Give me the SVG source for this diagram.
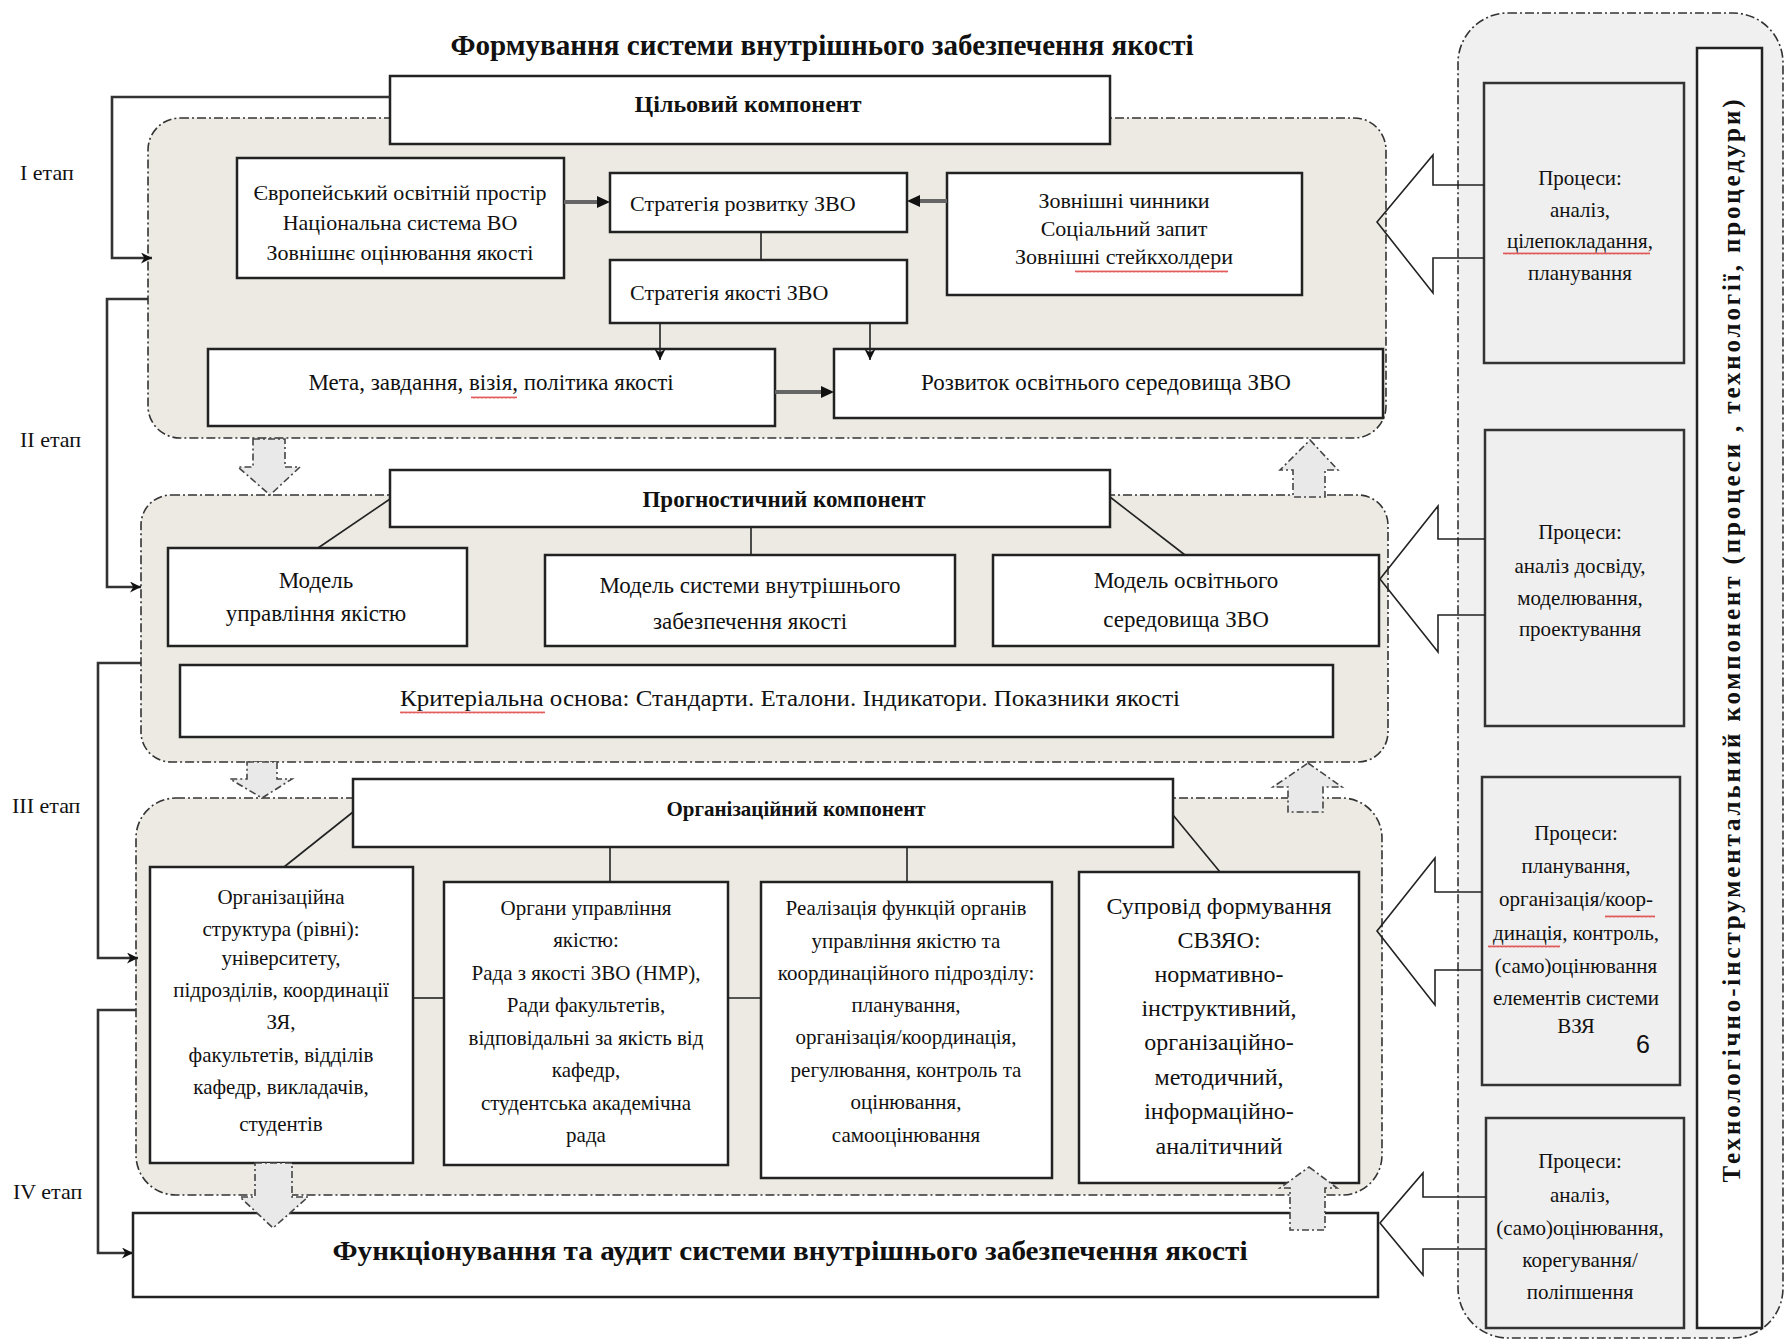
<svg xmlns="http://www.w3.org/2000/svg" width="1789" height="1344" viewBox="0 0 1789 1344">
<style>
text{font-family:"Liberation Serif","Times New Roman",serif;fill:#111}
.t{font-size:22px;text-anchor:middle}
.t23{font-size:23px;text-anchor:middle}
.t21{font-size:21px;text-anchor:middle}
.t24{font-size:24px;text-anchor:middle}
.b{font-weight:bold}
.lbl{font-size:22px}
.panel{fill:#ECEAE2;stroke:#333;stroke-width:1.6;stroke-dasharray:9 3 2 3}
.rcont{fill:#F0F0F0;stroke:#333;stroke-width:1.6;stroke-dasharray:9 3 2 3}
.box{fill:#fff;stroke:#222;stroke-width:2.5}
.pbox{fill:#EFEFEF;stroke:#333;stroke-width:2.5}
.ln{stroke:#222;stroke-width:1.6;fill:none}
.loop{stroke:#333;stroke-width:2.6;fill:none}
.thick{stroke:#666;stroke-width:4;fill:none}
.hollow{fill:none;stroke:#222;stroke-width:1.6}
.blk{fill:#E9E9E9;stroke:#444;stroke-width:1.6;stroke-dasharray:7 3 2 3}
</style>
<defs>
<marker id="ah" viewBox="0 0 10 10" refX="10" refY="5" markerWidth="12" markerHeight="11" markerUnits="userSpaceOnUse" orient="auto">
<path d="M0,0 L10,5 L0,10 L3,5 z" fill="#111"/>
</marker>
<pattern id="wavy" width="4" height="3" patternUnits="userSpaceOnUse">
<path d="M0,2.5 L1,0.5 L2,2.5 L3,0.5 L4,2.5" stroke="#d33" stroke-width="0.8" fill="none"/>
</pattern>
</defs>
<rect width="1789" height="1344" fill="#fff"/>

<!-- title -->
<text x="822" y="55" class="b" style="font-size:29px;text-anchor:middle" textLength="743" lengthAdjust="spacingAndGlyphs">Формування системи внутрішнього забезпечення якості</text>

<!-- stage labels -->
<g id="stages">
<text x="20" y="180" class="lbl">I етап</text>
<text x="20" y="447" class="lbl">II етап</text>
<text x="12" y="813" class="lbl">III етап</text>
<text x="13" y="1199" class="lbl">IV етап</text>
</g>

<!-- panels -->
<g id="panel1"><rect class="panel" x="148" y="118" width="1238" height="320" rx="32"/></g>
<g id="panel2"><rect class="panel" x="141" y="495" width="1247" height="267" rx="30"/></g>
<g id="panel3"><rect class="panel" x="136" y="798" width="1246" height="397" rx="40"/></g>
<g id="right-container"><rect class="rcont" x="1458" y="13" width="325" height="1325" rx="50"/></g>

<!-- panel 1 nodes -->
<g id="n-tsil"><rect class="box" x="390" y="76" width="720" height="68"/><text x="748" y="112" class="t24 b">Цільовий компонент</text></g>
<g id="n-euro"><rect class="box" x="237" y="158" width="327" height="120"/>
<text class="t" x="400" y="200">Європейський освітній простір</text>
<text class="t" x="400" y="230">Національна система ВО</text>
<text class="t" x="400" y="260">Зовнішнє оцінювання  якості</text></g>
<g id="n-strat-rozv"><rect class="box" x="610" y="173" width="297" height="59"/><text x="630" y="211" style="font-size:22px">Стратегія розвитку ЗВО</text></g>
<g id="n-strat-yak"><rect class="box" x="610" y="260" width="297" height="63"/><text x="630" y="300" style="font-size:22px">Стратегія якості ЗВО</text></g>
<g id="n-zovn"><rect class="box" x="947" y="173" width="355" height="122"/>
<text class="t" x="1124" y="208">Зовнішні чинники</text>
<text class="t" x="1124" y="236">Соціальний запит</text>
<text class="t" x="1124" y="264">Зовнішні стейкхолдери</text></g>
<g id="n-meta"><rect class="box" x="208" y="349" width="567" height="77"/><text class="t23" x="491" y="390">Мета, завдання, візія, політика якості</text></g>
<g id="n-rozv"><rect class="box" x="834" y="349" width="549" height="69"/><text class="t23" x="1106" y="390">Розвиток освітнього середовища ЗВО</text></g>

<!-- panel 2 nodes -->
<g id="n-progn"><rect class="box" x="390" y="470" width="720" height="57"/><text x="784" y="507" class="b" style="font-size:23px;text-anchor:middle">Прогностичний компонент</text></g>
<g id="n-model1"><rect class="box" x="168" y="548" width="299" height="98"/>
<text class="t23" x="316" y="588">Модель</text><text class="t23" x="316" y="621">управління якістю</text></g>
<g id="n-model2"><rect class="box" x="545" y="555" width="410" height="91"/>
<text class="t23" x="750" y="593">Модель системи внутрішнього</text><text class="t23" x="750" y="629">забезпечення якості</text></g>
<g id="n-model3"><rect class="box" x="993" y="555" width="386" height="91"/>
<text class="t23" x="1186" y="588">Модель освітнього</text><text class="t23" x="1186" y="627">середовища ЗВО</text></g>
<g id="n-kryt"><rect class="box" x="180" y="665" width="1153" height="72"/>
<text x="790" y="706" class="t23" textLength="780" lengthAdjust="spacingAndGlyphs">Критеріальна основа: Стандарти. Еталони. Індикатори. Показники якості</text></g>

<!-- panel 3 nodes -->
<g id="n-org"><rect class="box" x="353" y="779" width="820" height="68"/><text x="796" y="816" class="b" style="font-size:21px;text-anchor:middle">Організаційний компонент</text></g>
<g id="n-a"><rect class="box" x="150" y="867" width="263" height="296"/>
<text class="t21" x="281" y="904">Організаційна</text>
<text class="t21" x="281" y="936">структура (рівні):</text>
<text class="t21" x="281" y="965">університету,</text>
<text class="t21" x="281" y="997">підрозділів, координації</text>
<text class="t21" x="281" y="1029">ЗЯ,</text>
<text class="t21" x="281" y="1062">факультетів, відділів</text>
<text class="t21" x="281" y="1094">кафедр, викладачів,</text>
<text class="t21" x="281" y="1131">студентів</text></g>
<g id="n-b"><rect class="box" x="444" y="882" width="284" height="283"/>
<text class="t21" x="586" y="915">Органи управління</text>
<text class="t21" x="586" y="947">якістю:</text>
<text class="t21" x="586" y="980">Рада з якості ЗВО (НМР),</text>
<text class="t21" x="586" y="1012">Ради факультетів,</text>
<text class="t21" x="586" y="1045">відповідальні за якість від</text>
<text class="t21" x="586" y="1077">кафедр,</text>
<text class="t21" x="586" y="1110">студентська академічна</text>
<text class="t21" x="586" y="1142">рада</text></g>
<g id="n-c"><rect class="box" x="761" y="882" width="291" height="296"/>
<text class="t21" x="906" y="915">Реалізація функцій органів</text>
<text class="t21" x="906" y="948">управління якістю та</text>
<text class="t21" x="906" y="980">координаційного підрозділу:</text>
<text class="t21" x="906" y="1012">планування,</text>
<text class="t21" x="906" y="1044">організація/координація,</text>
<text class="t21" x="906" y="1077">регулювання, контроль та</text>
<text class="t21" x="906" y="1109">оцінювання,</text>
<text class="t21" x="906" y="1142">самооцінювання</text></g>
<g id="n-d"><rect class="box" x="1079" y="872" width="280" height="311"/>
<text class="t24" x="1219" y="914">Супровід формування</text>
<text class="t24" x="1219" y="948">СВЗЯО:</text>
<text class="t24" x="1219" y="982">нормативно-</text>
<text class="t24" x="1219" y="1016">інструктивний,</text>
<text class="t24" x="1219" y="1050">організаційно-</text>
<text class="t24" x="1219" y="1085">методичний,</text>
<text class="t24" x="1219" y="1119">інформаційно-</text>
<text class="t24" x="1219" y="1154">аналітичний</text></g>

<!-- stage 4 -->
<g id="n-func"><rect class="box" x="133" y="1213" width="1245" height="84"/>
<text x="790" y="1260" class="b" style="font-size:28px;text-anchor:middle" textLength="915" lengthAdjust="spacingAndGlyphs">Функціонування та аудит системи внутрішнього забезпечення якості</text></g>

<!-- right column -->
<g id="n-p1"><rect class="pbox" x="1484" y="83" width="200" height="280"/>
<text class="t21" x="1580" y="185">Процеси:</text>
<text class="t21" x="1580" y="217">аналіз,</text>
<text class="t21" x="1580" y="248">цілепокладання,</text>
<text class="t21" x="1580" y="280">планування</text></g>
<g id="n-p2"><rect class="pbox" x="1485" y="430" width="199" height="296"/>
<text class="t21" x="1580" y="539">Процеси:</text>
<text class="t21" x="1580" y="573">аналіз досвіду,</text>
<text class="t21" x="1580" y="605">моделювання,</text>
<text class="t21" x="1580" y="636">проектування</text></g>
<g id="n-p3"><rect class="pbox" x="1482" y="777" width="198" height="308"/>
<text class="t21" x="1576" y="840">Процеси:</text>
<text class="t21" x="1576" y="873">планування,</text>
<text class="t21" x="1576" y="906">організація/коор-</text>
<text class="t21" x="1576" y="940">динація, контроль,</text>
<text class="t21" x="1576" y="973">(само)оцінювання</text>
<text class="t21" x="1576" y="1005">елементів системи</text>
<text class="t21" x="1576" y="1033">ВЗЯ</text>
<text x="1643" y="1053" style="font-family:'Liberation Sans',Arial,sans-serif;font-size:25px;text-anchor:middle">6</text></g>
<g id="n-p4"><rect class="pbox" x="1486" y="1118" width="198" height="210"/>
<text class="t21" x="1580" y="1168">Процеси:</text>
<text class="t21" x="1580" y="1202">аналіз,</text>
<text class="t21" x="1580" y="1235">(само)оцінювання,</text>
<text class="t21" x="1580" y="1267">корегування/</text>
<text class="t21" x="1580" y="1299">поліпшення</text></g>
<g id="n-tech"><rect class="box" x="1697" y="48" width="65" height="1280"/>
<text transform="translate(1740,641) rotate(-90)" class="b" style="font-size:25px;text-anchor:middle" textLength="1083" lengthAdjust="spacing">Технологічно-інструментальний компонент (процеси , технології, процедури)</text></g>

<!-- connectors -->
<g id="connectors">
<polyline class="loop" points="390,97 112,97 112,258 152,258" marker-end="url(#ah)"/>
<polyline class="loop" points="148,299 107,299 107,587 141,587" marker-end="url(#ah)"/>
<polyline class="loop" points="141,663 98,663 98,958 138,958" marker-end="url(#ah)"/>
<polyline class="loop" points="136,1010 98,1010 98,1253 133,1253" marker-end="url(#ah)"/>
<line class="ln" x1="761" y1="232" x2="761" y2="260"/>
<line class="ln" x1="660" y1="323" x2="660" y2="360" marker-end="url(#ah)"/>
<line class="ln" x1="870" y1="323" x2="870" y2="360" marker-end="url(#ah)"/>
<line class="thick" x1="564" y1="202" x2="600" y2="202"/>
<path d="M610,202 L597,196 L597,208 z" fill="#111"/>
<line class="thick" x1="947" y1="201" x2="917" y2="201"/>
<path d="M907,201 L920,195 L920,207 z" fill="#111"/>
<line class="thick" x1="775" y1="392" x2="824" y2="392"/>
<path d="M834,392 L821,386 L821,398 z" fill="#111"/>
<line class="ln" x1="390" y1="499" x2="318" y2="548"/>
<line class="ln" x1="751" y1="527" x2="751" y2="555"/>
<line class="ln" x1="1110" y1="497" x2="1185" y2="555"/>
<line class="ln" x1="353" y1="812" x2="284" y2="867"/>
<line class="ln" x1="610" y1="847" x2="610" y2="882"/>
<line class="ln" x1="907" y1="847" x2="907" y2="882"/>
<line class="ln" x1="1173" y1="815" x2="1220" y2="872"/>
<line class="ln" x1="413" y1="998" x2="444" y2="998"/>
<line class="ln" x1="728" y1="998" x2="761" y2="998"/>
<polyline class="hollow" points="1484,185 1433,185 1433,155 1377,222 1433,293 1433,258 1484,258"/>
<polyline class="hollow" points="1485,539 1438,539 1438,506 1380,579 1438,652 1438,615 1485,615"/>
<polyline class="hollow" points="1482,892 1435,892 1435,858 1377,931 1435,1005 1435,970 1482,970"/>
<polyline class="hollow" points="1486,1197 1423,1197 1423,1173 1380,1223 1423,1275 1423,1249 1486,1249"/>
</g>

<!-- block arrows between stages -->
<g id="stage-arrows">
<polygon class="blk" points="253,439 285,439 285,467 300,467 270,495 238,467 253,467"/>
<polygon class="blk" points="1310,440 1338,470 1325,470 1325,497 1293,497 1293,470 1280,470"/>
<polygon class="blk" points="247,762 277,762 277,779 292,779 262,798 230,779 247,779"/>
<polygon class="blk" points="1308,763 1342,787 1323,787 1323,812 1288,812 1288,787 1273,787"/>
<polygon class="blk" points="255,1163 292,1163 292,1197 308,1197 273,1228 240,1197 255,1197"/>
<polygon class="blk" points="1309,1167 1337,1188 1325,1188 1325,1230 1290,1230 1290,1188 1280,1188"/>
</g>

<!-- spell-check underlines -->
<g id="wavy-marks">
<rect x="471" y="396" width="46" height="3" fill="url(#wavy)"/>
<rect x="1075" y="270" width="153" height="3" fill="url(#wavy)"/>
<rect x="1503" y="252" width="147" height="3" fill="url(#wavy)"/>
<rect x="400" y="711" width="145" height="3" fill="url(#wavy)"/>
<rect x="1605" y="915" width="50" height="3" fill="url(#wavy)"/>
<rect x="1488" y="945" width="72" height="3" fill="url(#wavy)"/>
</g>
</svg>
